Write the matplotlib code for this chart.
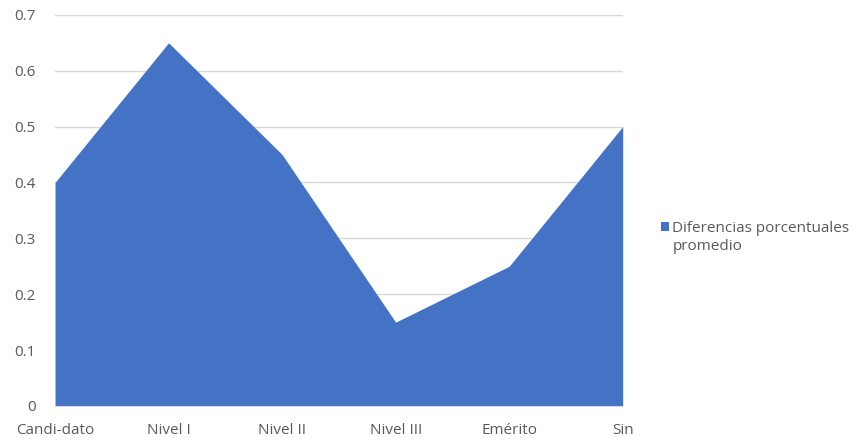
import numpy as np
import matplotlib.pyplot as plt

# data
categorias = ["Candi-dato", "Nivel I", "Nivel II", "Nivel III", "Emérito", "Sin"]
valores = [0.40, 0.65, 0.45, 0.15, 0.25, 0.50]
yticks = [0, 0.1, 0.2, 0.3, 0.4, 0.5, 0.6, 0.7]
ytick_labels = ["0", "0.1", "0.2", "0.3", "0.4", "0.5", "0.6", "0.7"]
serie = "Diferencias porcentuales"
serie_2 = "promedio"

plt.rcParams["font.family"] = ["Open Sans", "DejaVu Sans"]

fig = plt.figure(figsize=(8.64, 4.41), dpi=100)
ax = fig.add_axes([0.0637, 0.0794, 0.657, 0.887])

x = np.arange(len(categorias))
ax.fill_between(x, valores, 0, color="#4472C4", lw=0, label=serie, zorder=2)

ax.set_xlim(0, len(categorias) - 1)
ax.set_ylim(0, 0.7)
ax.set_yticks(yticks)
ax.set_yticklabels(ytick_labels)
ax.set_xticks(x)
ax.set_xticklabels(categorias)
ax.yaxis.grid(True, color="#D9D9D9", lw=1, zorder=1)
ax.set_axisbelow(True)

for s in ["top", "right", "left"]:
    ax.spines[s].set_visible(False)
ax.spines["bottom"].set_color("#D9D9D9")
ax.tick_params(length=0, labelsize=11, colors="#595959")
ax.tick_params(axis="y", pad=14)
ax.tick_params(axis="x", pad=12)

leg = fig.legend(loc="upper left", bbox_to_anchor=(0.749, 0.531), frameon=False,
                 fontsize=11, handlelength=0.55, handleheight=0.55, handletextpad=0.2,
                 labelcolor="#595959")

# second line of the legend label, under the first
fig.canvas.draw()
bb = leg.get_texts()[0].get_window_extent()
fig.text(bb.x0 / fig.bbox.width, (bb.y0 - 18) / fig.bbox.height, serie_2,
         fontsize=11, color="#595959", ha="left", va="bottom")

fig.savefig("out.png", dpi=100)
